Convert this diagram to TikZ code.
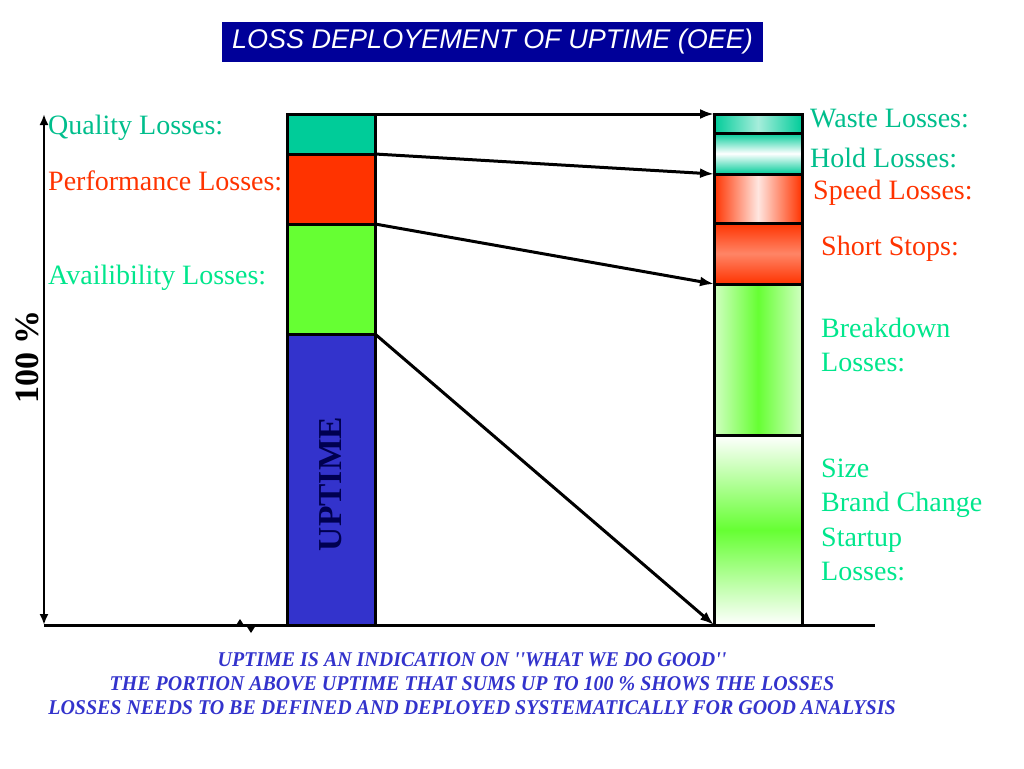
\documentclass[tikz,border=0pt]{standalone}
\usepackage{fontspec}
\setmainfont{Liberation Serif}
\newfontfamily\titlefont{Liberation Sans}
\newfontfamily\notefont[FakeStretch=0.95]{Liberation Serif}
\usetikzlibrary{arrows.meta,positioning}
\definecolor{qteal}{RGB}{0,204,153}
\definecolor{lossred}{RGB}{255,51,0}
\definecolor{lossgreen}{RGB}{102,255,51}
\definecolor{upblue}{RGB}{51,51,204}
\definecolor{titleblue}{RGB}{0,0,153}
\definecolor{tealtext}{RGB}{0,190,140}
\definecolor{greentext}{RGB}{0,230,140}
\definecolor{upnavy}{RGB}{0,0,80}
\definecolor{noteblue}{RGB}{51,51,204}
\begin{document}
\begin{tikzpicture}[x=1pt,y=-1pt,
    seg/.style={draw, line width=3pt, minimum width=88pt, outer sep=0pt, inner sep=0pt},
    conn/.style={-{Latex[length=14pt,width=10pt]}, line width=3pt},
    lbl/.style={anchor=west, inner sep=0pt, font=\fontsize{28}{34.5}\selectfont}]
    \useasboundingbox (0,0) rectangle (1024,768);
    % Title
    \node[fill=titleblue, text=white, minimum width=541pt, minimum height=40pt,
          font=\titlefont\itshape\fontsize{27}{30}\selectfont] (title) at (492.5,42) {LOSS DEPLOYEMENT OF UPTIME (OEE)};

    % Axis
    \coordinate (top) at (44,114);
    \coordinate (bot) at (44,625);
    \coordinate (axend) at (875,625);
    \draw[{Latex[length=11pt,width=9pt]}-{Latex[length=11pt,width=9pt]}, line width=2.5pt] (top) -- (bot);
    \draw[line width=3pt] (bot) -- (axend);
    \coordinate (tk1) at (240,619);
    \coordinate (tk2) at (251,633);
    \fill (tk1) -- ++(-4.5,7) -- ++(9,0) -- cycle;
    \fill (tk2) -- ++(-4.5,-7) -- ++(9,0) -- cycle;
    \node[rotate=90, font=\bfseries\fontsize{34}{40}\selectfont] (pct) at (27,357) {100 \%};

    % Left bar
    \node[seg, fill=qteal, minimum height=40pt, anchor=north west] (qual) at (287,114) {};
    \node[seg, fill=lossred, minimum height=70pt, below=0pt of qual] (perf) {};
    \node[seg, fill=lossgreen, minimum height=110pt, below=0pt of perf] (avail) {};
    \node[seg, fill=upblue, minimum height=291pt, below=0pt of avail] (up) {};
    \node[rotate=90, text=upnavy, font=\bfseries\fontsize{33.5}{40}\selectfont] (uptxt) at (331,484) {UPTIME};

    % Right bar (middle color has to come last)
    \node[seg, left color=qteal, right color=qteal, middle color=qteal!35, minimum height=19pt, anchor=north west] (waste) at (714,114) {};
    \node[seg, top color=qteal, bottom color=qteal, middle color=white, minimum height=41pt, below=0pt of waste] (hold) {};
    \node[seg, left color=lossred, right color=lossred, middle color=lossred!12, minimum height=49pt, below=0pt of hold] (speed) {};
    \node[seg, top color=lossred, bottom color=lossred, middle color=lossred!60, minimum height=61pt, below=0pt of speed] (short) {};
    \node[seg, left color=lossgreen!30, right color=lossgreen!30, middle color=lossgreen, minimum height=151pt, below=0pt of short] (brk) {};
    \node[seg, top color=white, bottom color=white, middle color=lossgreen, minimum height=190pt, below=0pt of brk] (size) {};

    % Connectors
    \draw[conn] (qual.north east) -- (waste.north west);
    \draw[conn] (perf.north east) -- (speed.north west);
    \draw[conn] (avail.north east) -- (brk.north west);
    \draw[conn] (up.north east) -- (size.south west);

    % Left labels
    \node[lbl, text=tealtext] (qlbl) at (48,128) {Quality Losses:};
    \node[lbl, text=lossred] (plbl) at (48,181) {Performance Losses:};
    \node[lbl, text=greentext] (albl) at (48,278) {Availibility Losses:};

    % Right labels
    \node[lbl, text=tealtext] (wlbl) at (810,119) {Waste Losses:};
    \node[lbl, text=tealtext] (hlbl) at (810,158) {Hold Losses:};
    \node[lbl, text=lossred] (slbl) at (813,193) {Speed Losses:};
    \node[lbl, text=lossred] (sslbl) at (821,249) {Short Stops:};
    \node[lbl, text=greentext, align=left] (blbl) at (821,345) {Breakdown\\Losses:};
    \node[lbl, text=greentext, align=left] (zlbl) at (821,520) {Size\\Brand Change\\Startup\\Losses:};

    % Notes
    \node[text=noteblue, align=center, inner sep=0pt,
          font=\notefont\bfseries\itshape\fontsize{21}{24}\selectfont] (note) at (472,684)
        {UPTIME IS AN INDICATION ON ''WHAT WE DO GOOD''\\
         THE PORTION ABOVE UPTIME THAT SUMS UP TO 100 \% SHOWS THE LOSSES\\
         LOSSES NEEDS TO BE DEFINED AND DEPLOYED SYSTEMATICALLY FOR GOOD ANALYSIS};
\end{tikzpicture}
\end{document}
